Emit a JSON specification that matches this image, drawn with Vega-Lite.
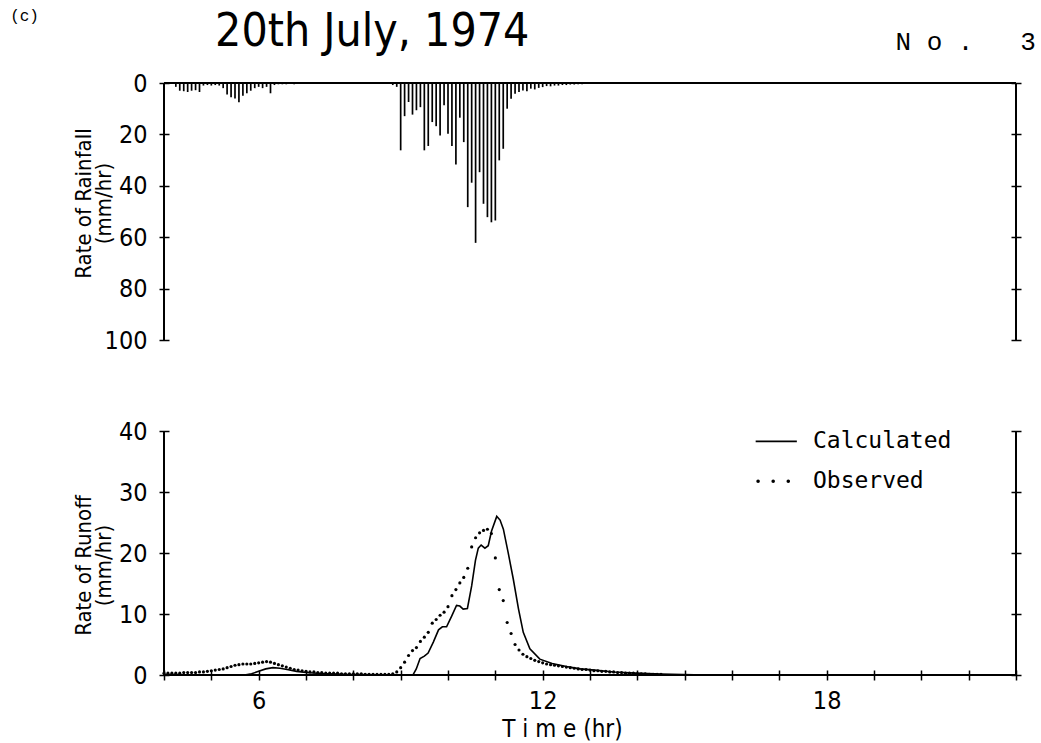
{
  "$schema": "https://vega.github.io/schema/vega-lite/v6.json",
  "background": "white",
  "padding": {"left": 10, "top": 8, "right": 0, "bottom": 0},
  "config": {
    "view": {"stroke": null},
    "font": "DejaVu Sans Condensed, Liberation Sans, sans-serif",
    "axis": {
      "domain": false, "grid": false, "offset": -5, "tickSize": 10, "tickWidth": 1.5, "tickColor": "black",
      "labelFont": "DejaVu Sans Condensed, Liberation Sans, sans-serif", "labelFontSize": 25, "labelColor": "black",
      "titleFont": "DejaVu Sans Condensed, Liberation Sans, sans-serif", "titleFontSize": 22, "titleFontWeight": "normal", "titleColor": "black"
    },
    "concat": {"spacing": 66}
  },
  "datasets": {
    "rain": [
      {"t": 4.25, "r": 1.5}, {"t": 4.333, "r": 3.0}, {"t": 4.417, "r": 3.2}, {"t": 4.5, "r": 3.5}, {"t": 4.583, "r": 3.0},
      {"t": 4.667, "r": 2.8}, {"t": 4.75, "r": 3.5}, {"t": 4.833, "r": 1.0}, {"t": 4.917, "r": 0.8}, {"t": 5.0, "r": 1.0},
      {"t": 5.083, "r": 0.8}, {"t": 5.167, "r": 1.0}, {"t": 5.25, "r": 2.0}, {"t": 5.333, "r": 4.5}, {"t": 5.417, "r": 5.5},
      {"t": 5.5, "r": 6.0}, {"t": 5.583, "r": 7.5}, {"t": 5.667, "r": 5.0}, {"t": 5.75, "r": 4.0}, {"t": 5.833, "r": 3.0},
      {"t": 5.917, "r": 2.0}, {"t": 6.0, "r": 1.5}, {"t": 6.083, "r": 2.0}, {"t": 6.167, "r": 1.5}, {"t": 6.25, "r": 4.0},
      {"t": 6.333, "r": 0.8}, {"t": 6.417, "r": 0.5}, {"t": 6.5, "r": 0.5}, {"t": 6.583, "r": 0.5}, {"t": 6.667, "r": 0.3},
      {"t": 6.75, "r": 0.5}, {"t": 6.833, "r": 0.3}, {"t": 6.917, "r": 0.3}, {"t": 7.0, "r": 0.3}, {"t": 7.25, "r": 0.3},
      {"t": 8.833, "r": 0.8}, {"t": 8.917, "r": 1.5},
      {"t": 9.0, "r": 26.2}, {"t": 9.083, "r": 12.9}, {"t": 9.167, "r": 7.4}, {"t": 9.25, "r": 12.3}, {"t": 9.333, "r": 10.6},
      {"t": 9.417, "r": 9.4}, {"t": 9.5, "r": 26.2}, {"t": 9.583, "r": 24.5}, {"t": 9.667, "r": 15.2}, {"t": 9.75, "r": 16.8},
      {"t": 9.833, "r": 20.4}, {"t": 9.917, "r": 8.7}, {"t": 10.0, "r": 19.7}, {"t": 10.083, "r": 24.5}, {"t": 10.167, "r": 31.7},
      {"t": 10.25, "r": 13.5}, {"t": 10.333, "r": 23.0}, {"t": 10.417, "r": 48.3}, {"t": 10.5, "r": 38.8}, {"t": 10.583, "r": 62.2},
      {"t": 10.667, "r": 34.7}, {"t": 10.75, "r": 47.0}, {"t": 10.833, "r": 52.2}, {"t": 10.917, "r": 54.2}, {"t": 11.0, "r": 53.5},
      {"t": 11.083, "r": 30.1}, {"t": 11.167, "r": 25.6}, {"t": 11.25, "r": 10.0}, {"t": 11.333, "r": 6.1}, {"t": 11.417, "r": 4.2},
      {"t": 11.5, "r": 3.5}, {"t": 11.583, "r": 2.9}, {"t": 11.667, "r": 3.2}, {"t": 11.75, "r": 2.2}, {"t": 11.833, "r": 2.5},
      {"t": 11.917, "r": 1.9}, {"t": 12.0, "r": 1.6}, {"t": 12.083, "r": 1.2}, {"t": 12.167, "r": 1.3}, {"t": 12.25, "r": 1.0},
      {"t": 12.333, "r": 1.0}, {"t": 12.417, "r": 0.8}, {"t": 12.5, "r": 0.8}, {"t": 12.583, "r": 0.6}, {"t": 12.667, "r": 0.6},
      {"t": 12.75, "r": 0.5}, {"t": 12.833, "r": 0.5}, {"t": 12.917, "r": 0.4}, {"t": 13.0, "r": 0.4}, {"t": 13.083, "r": 0.3},
      {"t": 13.167, "r": 0.3}, {"t": 13.333, "r": 0.3}, {"t": 13.5, "r": 0.3}, {"t": 13.667, "r": 0.2}
    ],
    "calculated": [
      {"t": 4.0, "q": 0}, {"t": 5.7, "q": 0}, {"t": 5.85, "q": 0.2}, {"t": 6.0, "q": 0.6}, {"t": 6.15, "q": 1.0},
      {"t": 6.3, "q": 1.2}, {"t": 6.45, "q": 1.1}, {"t": 6.6, "q": 0.9}, {"t": 6.8, "q": 0.6}, {"t": 7.0, "q": 0.4},
      {"t": 7.3, "q": 0.25}, {"t": 7.8, "q": 0.1}, {"t": 8.5, "q": 0.05}, {"t": 9.26, "q": 0}, {"t": 9.33, "q": 1.0},
      {"t": 9.41, "q": 2.7}, {"t": 9.5, "q": 3.1}, {"t": 9.58, "q": 3.6}, {"t": 9.69, "q": 5.4}, {"t": 9.8, "q": 7.4},
      {"t": 9.88, "q": 7.9}, {"t": 9.97, "q": 7.9}, {"t": 10.08, "q": 9.7}, {"t": 10.18, "q": 11.4}, {"t": 10.25, "q": 11.3},
      {"t": 10.32, "q": 10.8}, {"t": 10.41, "q": 10.9}, {"t": 10.5, "q": 14.6}, {"t": 10.58, "q": 18.8}, {"t": 10.64, "q": 20.8},
      {"t": 10.7, "q": 21.3}, {"t": 10.78, "q": 20.8}, {"t": 10.85, "q": 21.2}, {"t": 10.92, "q": 23.6}, {"t": 11.03, "q": 26.0},
      {"t": 11.1, "q": 25.4}, {"t": 11.17, "q": 23.9}, {"t": 11.27, "q": 20.1}, {"t": 11.38, "q": 15.7}, {"t": 11.49, "q": 10.8},
      {"t": 11.59, "q": 7.0}, {"t": 11.73, "q": 4.3}, {"t": 11.94, "q": 2.6}, {"t": 12.2, "q": 1.9}, {"t": 12.5, "q": 1.4},
      {"t": 12.8, "q": 1.0}, {"t": 13.1, "q": 0.8}, {"t": 13.5, "q": 0.5}, {"t": 13.96, "q": 0.3}, {"t": 14.5, "q": 0.15},
      {"t": 15.2, "q": 0.05}, {"t": 16.0, "q": 0}, {"t": 22.0, "q": 0}
    ],
    "observed": [
      {"t": 4.0, "q": 0.3}, {"t": 4.083, "q": 0.3}, {"t": 4.167, "q": 0.3}, {"t": 4.25, "q": 0.3}, {"t": 4.333, "q": 0.3},
      {"t": 4.417, "q": 0.4}, {"t": 4.5, "q": 0.4}, {"t": 4.583, "q": 0.4}, {"t": 4.667, "q": 0.4}, {"t": 4.75, "q": 0.5},
      {"t": 4.833, "q": 0.5}, {"t": 4.917, "q": 0.6}, {"t": 5.0, "q": 0.7}, {"t": 5.083, "q": 0.8}, {"t": 5.167, "q": 0.9},
      {"t": 5.25, "q": 1.0}, {"t": 5.333, "q": 1.2}, {"t": 5.417, "q": 1.4}, {"t": 5.5, "q": 1.6}, {"t": 5.583, "q": 1.7},
      {"t": 5.667, "q": 1.8}, {"t": 5.75, "q": 1.8}, {"t": 5.833, "q": 1.8}, {"t": 5.917, "q": 1.9}, {"t": 6.0, "q": 2.0},
      {"t": 6.083, "q": 2.1}, {"t": 6.167, "q": 2.2}, {"t": 6.25, "q": 2.1}, {"t": 6.333, "q": 1.9}, {"t": 6.417, "q": 1.7},
      {"t": 6.5, "q": 1.5}, {"t": 6.583, "q": 1.3}, {"t": 6.667, "q": 1.1}, {"t": 6.75, "q": 0.9}, {"t": 6.833, "q": 0.8},
      {"t": 6.917, "q": 0.7}, {"t": 7.0, "q": 0.6}, {"t": 7.083, "q": 0.5}, {"t": 7.167, "q": 0.5}, {"t": 7.25, "q": 0.4},
      {"t": 7.333, "q": 0.4}, {"t": 7.417, "q": 0.3}, {"t": 7.5, "q": 0.3}, {"t": 7.583, "q": 0.3}, {"t": 7.667, "q": 0.3},
      {"t": 7.75, "q": 0.2}, {"t": 7.833, "q": 0.2}, {"t": 7.917, "q": 0.2}, {"t": 8.0, "q": 0.2}, {"t": 8.083, "q": 0.2},
      {"t": 8.167, "q": 0.2}, {"t": 8.25, "q": 0.1}, {"t": 8.333, "q": 0.1}, {"t": 8.417, "q": 0.1}, {"t": 8.5, "q": 0.1},
      {"t": 8.583, "q": 0.1}, {"t": 8.667, "q": 0.1}, {"t": 8.75, "q": 0.1}, {"t": 8.833, "q": 0.2}, {"t": 8.917, "q": 0.5},
      {"t": 9.0, "q": 1.2}, {"t": 9.083, "q": 2.1}, {"t": 9.167, "q": 3.2}, {"t": 9.25, "q": 4.0}, {"t": 9.333, "q": 4.5},
      {"t": 9.417, "q": 5.5}, {"t": 9.5, "q": 6.2}, {"t": 9.583, "q": 7.0}, {"t": 9.667, "q": 8.5}, {"t": 9.75, "q": 9.1},
      {"t": 9.833, "q": 9.8}, {"t": 9.917, "q": 10.3}, {"t": 10.0, "q": 11.2}, {"t": 10.083, "q": 13.0}, {"t": 10.167, "q": 14.0},
      {"t": 10.25, "q": 15.1}, {"t": 10.333, "q": 16.0}, {"t": 10.417, "q": 17.5}, {"t": 10.5, "q": 21.0}, {"t": 10.583, "q": 22.5},
      {"t": 10.667, "q": 23.3}, {"t": 10.75, "q": 23.7}, {"t": 10.833, "q": 23.9}, {"t": 10.917, "q": 23.2}, {"t": 11.0, "q": 19.2},
      {"t": 11.083, "q": 14.0}, {"t": 11.167, "q": 12.2}, {"t": 11.25, "q": 8.6}, {"t": 11.333, "q": 6.8}, {"t": 11.417, "q": 5.0},
      {"t": 11.5, "q": 4.1}, {"t": 11.583, "q": 3.4}, {"t": 11.667, "q": 3.0}, {"t": 11.75, "q": 2.7}, {"t": 11.833, "q": 2.4},
      {"t": 11.917, "q": 2.2}, {"t": 12.0, "q": 2.0}, {"t": 12.083, "q": 1.8}, {"t": 12.167, "q": 1.7}, {"t": 12.25, "q": 1.6},
      {"t": 12.333, "q": 1.5}, {"t": 12.417, "q": 1.4}, {"t": 12.5, "q": 1.3}, {"t": 12.583, "q": 1.2}, {"t": 12.667, "q": 1.1},
      {"t": 12.75, "q": 1.0}, {"t": 12.833, "q": 0.9}, {"t": 12.917, "q": 0.9}, {"t": 13.0, "q": 0.8}, {"t": 13.083, "q": 0.7},
      {"t": 13.167, "q": 0.7}, {"t": 13.25, "q": 0.6}, {"t": 13.333, "q": 0.6}, {"t": 13.417, "q": 0.5}, {"t": 13.5, "q": 0.5},
      {"t": 13.583, "q": 0.4}, {"t": 13.667, "q": 0.4}, {"t": 13.75, "q": 0.3}, {"t": 13.833, "q": 0.3}, {"t": 13.917, "q": 0.3},
      {"t": 14.0, "q": 0.2}, {"t": 14.083, "q": 0.2}, {"t": 14.167, "q": 0.2}, {"t": 14.25, "q": 0.1}, {"t": 14.333, "q": 0.1},
      {"t": 14.417, "q": 0.1}, {"t": 14.5, "q": 0.1}
    ]
  },
  "vconcat": [
    {
      "width": 852,
      "height": 257,
      "resolve": {"axis": {"x": "independent", "y": "independent"}},
      "layer": [
        {
          "data": {"name": "rain"},
          "mark": {"type": "rule", "color": "black", "strokeWidth": 1.7},
          "encoding": {
            "x": {"field": "t", "type": "quantitative", "scale": {"domain": [4, 22], "nice": false, "zero": false}, "axis": null},
            "y": {
              "field": "r", "type": "quantitative",
              "scale": {"domain": [0, 100], "reverse": true, "nice": false},
              "axis": {"values": [0, 20, 40, 60, 80, 100], "title": ["Rate of Rainfall", "(mm/hr)"], "labelPadding": 12, "titleX": -74, "titleY": 120, "titleLineHeight": 20}
            },
            "y2": {"datum": 0}
          }
        },
        {
          "data": {"values": [{}]},
          "mark": {"type": "rule", "color": "black", "strokeWidth": 2},
          "encoding": {
            "x": {"datum": 22, "type": "quantitative", "axis": null},
            "y": {"datum": 0, "type": "quantitative", "axis": {"orient": "right", "values": [0, 20, 40, 60, 80, 100], "labels": false, "title": null}},
            "y2": {"datum": 100}
          }
        },
        {
          "data": {"values": [{}]},
          "mark": {"type": "rule", "color": "black", "strokeWidth": 2},
          "encoding": {
            "x": {"datum": 4, "type": "quantitative", "axis": null},
            "y": {"datum": 0, "type": "quantitative", "axis": null},
            "y2": {"datum": 100}
          }
        },
        {
          "data": {"values": [{}]},
          "mark": {"type": "rule", "color": "black", "strokeWidth": 2},
          "encoding": {
            "x": {"datum": 4, "type": "quantitative", "axis": null},
            "x2": {"datum": 22},
            "y": {"datum": 0, "type": "quantitative", "axis": null}
          }
        },
        {
          "data": {"values": [{}]},
          "mark": {"type": "text", "text": "(c)", "font": "Liberation Mono", "fontSize": 16, "align": "left", "baseline": "middle", "color": "black"},
          "encoding": {
            "x": {"datum": 0.75, "type": "quantitative", "axis": null},
            "y": {"datum": -26, "type": "quantitative", "axis": null}
          }
        },
        {
          "data": {"values": [{}]},
          "mark": {"type": "text", "text": "20th July, 1974", "fontSize": 46, "align": "left", "baseline": "middle", "color": "black"},
          "encoding": {
            "x": {"datum": 5.08, "type": "quantitative", "axis": null},
            "y": {"datum": -20, "type": "quantitative", "axis": null}
          }
        },
        {
          "data": {"values": [{}]},
          "mark": {"type": "text", "text": "N o . \u00a0 3", "font": "Liberation Mono", "fontSize": 26, "align": "right", "baseline": "middle", "color": "black"},
          "encoding": {
            "x": {"datum": 22.42, "type": "quantitative", "axis": null},
            "y": {"datum": -16, "type": "quantitative", "axis": null}
          }
        }
      ]
    },
    {
      "width": 852,
      "height": 244,
      "resolve": {"axis": {"x": "independent", "y": "independent"}},
      "layer": [
        {
          "data": {"name": "calculated"},
          "mark": {"type": "line", "color": "black", "strokeWidth": 1.6},
          "encoding": {
            "x": {
              "field": "t", "type": "quantitative",
              "scale": {"domain": [4, 22], "nice": false, "zero": false},
              "axis": {
                "values": [4, 5, 6, 7, 8, 9, 10, 11, 12, 13, 14, 15, 16, 17, 18, 19, 20, 21, 22],
                "labelExpr": "datum.value % 6 == 0 ? datum.label : ''",
                "labelPadding": 8, "title": "T i m e (hr)", "titleX": 398, "titlePadding": 4, "titleFontSize": 24
              }
            },
            "y": {
              "field": "q", "type": "quantitative",
              "scale": {"domain": [0, 40], "nice": false},
              "axis": {"values": [0, 10, 20, 30, 40], "title": ["Rate of Runoff", "(mm/hr)"], "labelPadding": 12, "titleX": -74, "titleY": 134, "titleLineHeight": 20}
            }
          }
        },
        {
          "data": {"name": "observed"},
          "mark": {"type": "circle", "color": "black", "size": 10, "opacity": 1},
          "encoding": {
            "x": {"field": "t", "type": "quantitative", "axis": null},
            "y": {"field": "q", "type": "quantitative", "axis": null}
          }
        },
        {
          "data": {"values": [{}]},
          "mark": {"type": "rule", "color": "black", "strokeWidth": 2},
          "encoding": {
            "x": {"datum": 22, "type": "quantitative", "axis": null},
            "y": {"datum": 0, "type": "quantitative", "axis": {"orient": "right", "values": [0, 10, 20, 30, 40], "labels": false, "title": null}},
            "y2": {"datum": 40}
          }
        },
        {
          "data": {"values": [{}]},
          "mark": {"type": "rule", "color": "black", "strokeWidth": 2},
          "encoding": {
            "x": {"datum": 4, "type": "quantitative", "axis": null},
            "y": {"datum": 0, "type": "quantitative", "axis": null},
            "y2": {"datum": 40}
          }
        },
        {
          "data": {"values": [{}]},
          "mark": {"type": "rule", "color": "black", "strokeWidth": 2},
          "encoding": {
            "x": {"datum": 4, "type": "quantitative", "axis": null},
            "x2": {"datum": 22},
            "y": {"datum": 0, "type": "quantitative", "axis": null}
          }
        },
        {
          "data": {"values": [{}]},
          "mark": {"type": "rule", "color": "black", "strokeWidth": 1.6},
          "encoding": {
            "x": {"datum": 16.5, "type": "quantitative", "axis": null},
            "x2": {"datum": 17.37},
            "y": {"datum": 38.3, "type": "quantitative", "axis": null}
          }
        },
        {
          "data": {"values": [{}]},
          "mark": {"type": "rule", "color": "black", "strokeWidth": 3.5, "strokeCap": "round", "strokeDash": [0.1, 15]},
          "encoding": {
            "x": {"datum": 16.55, "type": "quantitative", "axis": null},
            "x2": {"datum": 17.25},
            "y": {"datum": 31.75, "type": "quantitative", "axis": null}
          }
        },
        {
          "data": {"values": [{}]},
          "mark": {"type": "text", "text": "Calculated", "font": "DejaVu Sans Mono", "fontSize": 23, "align": "left", "baseline": "middle", "color": "black"},
          "encoding": {
            "x": {"datum": 17.71, "type": "quantitative", "axis": null},
            "y": {"datum": 38.3, "type": "quantitative", "axis": null}
          }
        },
        {
          "data": {"values": [{}]},
          "mark": {"type": "text", "text": "Observed", "font": "DejaVu Sans Mono", "fontSize": 23, "align": "left", "baseline": "middle", "color": "black"},
          "encoding": {
            "x": {"datum": 17.71, "type": "quantitative", "axis": null},
            "y": {"datum": 31.75, "type": "quantitative", "axis": null}
          }
        }
      ]
    }
  ]
}
